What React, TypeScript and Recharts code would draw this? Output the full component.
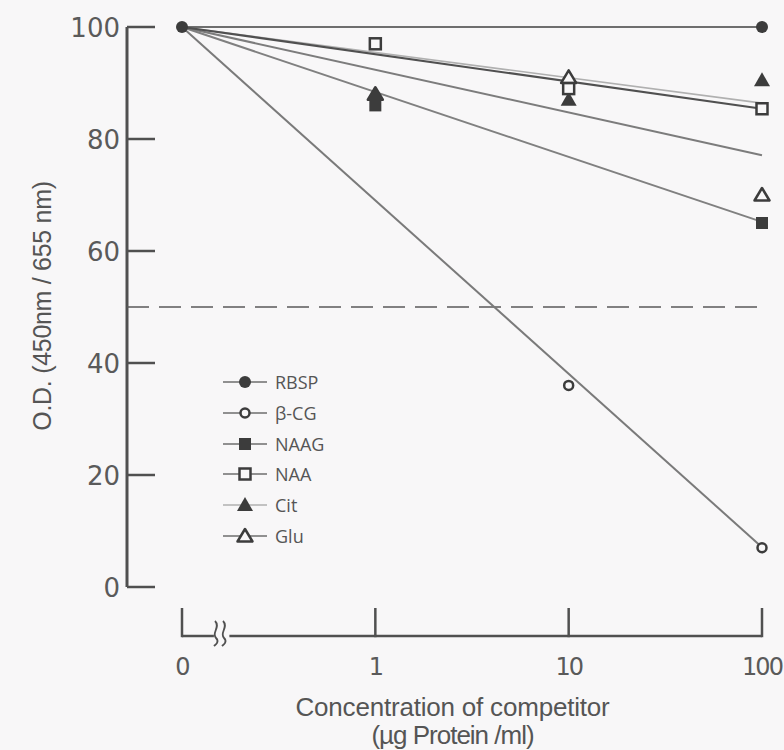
import { ComposedChart, Line, Scatter, XAxis, YAxis, ReferenceLine } from 'recharts'

document.body.style.margin = '0'

// concentration positions (log-spaced, 0 shown with an axis break)
const concPos = [0, 1, 2, 3]
const concLabels = ['0', '1', '10', '100']
const yTicks = [0, 20, 40, 60, 80, 100]

// measured points (null = no visible marker)
const rbspVals = [100, null, null, 100]
const bcgVals = [null, null, 36, 7]
const naagVals = [null, 86, null, 65]
const naaVals = [null, 97, 89, 85.4]
const citVals = [null, 88, 87, 90.5]
const gluVals = [null, 88, 91, 70]

// fitted lines: value at 0 and at 100 ug/ml
const fitStart = 100
const rbspFitEnd = 100
const bcgFitEnd = 7.1
const naagFitEnd = 65.2
const naaFitEnd = 85.4
const citFitEnd = 86.4
const gluFitEnd = 77.1

const X_MIN = -0.2845
const Y_MIN = -8.75
const BG = '#f8f7f8'
const INK = '#3c3c3c'
const AXIS = '#505050'

const points = (vals: (number | null)[]) =>
  concPos.map((x, i) => ({ x, y: vals[i] })).filter((p) => p.y != null)

const fit = (end: number) => [
  { x: concPos[0], y: fitStart },
  { x: concPos[3], y: end },
]

type Kind = 'circle' | 'circleOpen' | 'square' | 'squareOpen' | 'triangle' | 'triangleOpen'

function Marker({ kind, cx, cy }: { kind: Kind; cx: number; cy: number }) {
  if (cx == null || cy == null) return null
  switch (kind) {
    case 'circle':
      return <circle cx={cx} cy={cy} r={6} fill={INK} />
    case 'circleOpen':
      return <circle cx={cx} cy={cy} r={4.5} fill={BG} stroke={INK} strokeWidth={2.5} />
    case 'square':
      return <rect x={cx - 6} y={cy - 6} width={12} height={12} fill={INK} />
    case 'squareOpen':
      return <rect x={cx - 5.5} y={cy - 5.5} width={11} height={11} fill={BG} stroke={INK} strokeWidth={2.5} />
    case 'triangle':
      return <polygon points={`${cx},${cy - 8} ${cx + 8},${cy + 6} ${cx - 8},${cy + 6}`} fill={INK} />
    case 'triangleOpen':
      return (
        <polygon
          points={`${cx},${cy - 7} ${cx + 7.5},${cy + 5.5} ${cx - 7.5},${cy + 5.5}`}
          fill={BG}
          stroke={INK}
          strokeWidth={2.5}
          strokeLinejoin="round"
        />
      )
  }
  return null
}

const legendItems: { name: string; kind: Kind; line: string }[] = [
  { name: 'RBSP', kind: 'circle', line: '#6e6e6e' },
  { name: 'β-CG', kind: 'circleOpen', line: '#6e6e6e' },
  { name: 'NAAG', kind: 'square', line: '#6e6e6e' },
  { name: 'NAA', kind: 'squareOpen', line: '#6e6e6e' },
  { name: 'Cit', kind: 'triangle', line: '#b0b0b0' },
  { name: 'Glu', kind: 'triangleOpen', line: '#6e6e6e' },
]

const YTick = ({ x, y, payload }: any) => (
  <g>
    <line x1={x + 7} x2={x + 35} y1={y} y2={y} stroke={AXIS} strokeWidth={2.5} />
    <text x={x} y={y} dy="0.37em" textAnchor="end" fontFamily="DejaVu Sans" fontSize={26} fill="#5a5a5a">
      {payload.value}
    </text>
  </g>
)

const XTick = ({ x, y, payload }: any) => {
  const i = concPos.indexOf(payload.value)
  return (
    <g>
      <line x1={x} x2={x} y1={y - 28} y2={y + 1.2} stroke={AXIS} strokeWidth={2.5} />
      {i === 0 && (
        <g fill="none" stroke={AXIS} strokeWidth={1.8}>
          <path d={`M${x + 33} ${y - 15} C${x + 39} ${y - 9}, ${x + 29} ${y - 3}, ${x + 34} ${y + 2} C${x + 38} ${y + 6}, ${x + 33} ${y + 9}, ${x + 32} ${y + 10}`} />
          <path d={`M${x + 41} ${y - 15} C${x + 47} ${y - 9}, ${x + 37} ${y - 3}, ${x + 42} ${y + 2} C${x + 46} ${y + 6}, ${x + 41} ${y + 9}, ${x + 40} ${y + 10}`} />
        </g>
      )}
      <text
        x={x}
        y={y}
        dy={39}
        textAnchor="middle"
        fontFamily="DejaVu Sans"
        fontSize={24}
        letterSpacing={-2}
        fill="#5a5a5a"
      >
        {concLabels[i]}
      </text>
    </g>
  )
}

const XLabel = ({ viewBox }: any) => {
  const cx = viewBox.x + viewBox.width / 2 + 8
  return (
    <g fontFamily="Liberation Sans" fontSize={26} fill="#555" letterSpacing={-0.2} textAnchor="middle">
      <text x={cx} y={viewBox.y + 80}>Concentration of competitor</text>
      <text x={cx} y={viewBox.y + 108} letterSpacing={-1}>(µg Protein /ml)</text>
    </g>
  )
}

const YLabel = () => (
  <text
    x={42}
    y={306}
    transform="rotate(-90, 42, 306)"
    textAnchor="middle"
    dominantBaseline="central"
    fontFamily="Liberation Sans"
    fontSize={25}
    letterSpacing={-0.3}
    fill="#555"
  >
    O.D. (450nm / 655 nm)
  </text>
)

export default function App() {
  return (
    <div style={{ position: 'relative', width: 784, height: 750, background: BG, overflow: 'hidden' }}>
      <ComposedChart width={784} height={750} margin={{ top: 27, right: 22, bottom: 0, left: 67 }}>
        <XAxis
          type="number"
          dataKey="x"
          domain={[X_MIN, 3]}
          ticks={concPos}
          interval={0}
          axisLine={false}
          tickLine={false}
          tickSize={0}
          tickMargin={0}
          height={114}
          tick={<XTick />}
          label={<XLabel />}
        />
        <YAxis
          type="number"
          dataKey="y"
          domain={[Y_MIN, 100]}
          ticks={yTicks}
          interval={0}
          axisLine={false}
          tickLine={false}
          tickSize={0}
          tickMargin={7}
          width={60}
          tick={<YTick />}
          label={<YLabel />}
        />
        <ReferenceLine
          segment={[{ x: X_MIN, y: 0 }, { x: X_MIN, y: 100 }]}
          stroke={AXIS}
          strokeWidth={3}
          ifOverflow="visible"
        />
        <ReferenceLine
          segment={[{ x: 0, y: Y_MIN }, { x: 0.165, y: Y_MIN }]}
          stroke={AXIS}
          strokeWidth={2.5}
          ifOverflow="visible"
        />
        <ReferenceLine
          segment={[{ x: 0.245, y: Y_MIN }, { x: 3, y: Y_MIN }]}
          stroke={AXIS}
          strokeWidth={2.5}
          ifOverflow="visible"
        />
        <ReferenceLine y={50} stroke="#5a5a5a" strokeWidth={1.6} strokeDasharray="22 10" ifOverflow="visible" />

        <Line data={fit(citFitEnd)} dataKey="y" stroke="#b0b0b0" strokeWidth={1.6} dot={false} isAnimationActive={false} />
        <Line data={fit(rbspFitEnd)} dataKey="y" stroke="#6e6e6e" strokeWidth={2} dot={false} isAnimationActive={false} />
        <Line data={fit(bcgFitEnd)} dataKey="y" stroke="#7a7a7a" strokeWidth={2} dot={false} isAnimationActive={false} />
        <Line data={fit(naagFitEnd)} dataKey="y" stroke="#808080" strokeWidth={2} dot={false} isAnimationActive={false} />
        <Line data={fit(gluFitEnd)} dataKey="y" stroke="#7c7c7c" strokeWidth={2} dot={false} isAnimationActive={false} />
        <Line data={fit(naaFitEnd)} dataKey="y" stroke="#505050" strokeWidth={2.2} dot={false} isAnimationActive={false} />

        <Scatter data={points(gluVals)} isAnimationActive={false} shape={(p: any) => <Marker kind="triangleOpen" cx={p.cx} cy={p.cy} />} />
        <Scatter data={points(naagVals)} isAnimationActive={false} shape={(p: any) => <Marker kind="square" cx={p.cx} cy={p.cy} />} />
        <Scatter data={points(citVals)} isAnimationActive={false} shape={(p: any) => <Marker kind="triangle" cx={p.cx} cy={p.cy} />} />
        <Scatter data={points(naaVals)} isAnimationActive={false} shape={(p: any) => <Marker kind="squareOpen" cx={p.cx} cy={p.cy} />} />
        <Scatter data={points(bcgVals)} isAnimationActive={false} shape={(p: any) => <Marker kind="circleOpen" cx={p.cx} cy={p.cy} />} />
        <Scatter data={points(rbspVals)} isAnimationActive={false} shape={(p: any) => <Marker kind="circle" cx={p.cx} cy={p.cy} />} />
      </ComposedChart>

      <div style={{ position: 'absolute', left: 222, top: 367 }}>
        {legendItems.map((it) => (
          <div key={it.name} style={{ display: 'flex', alignItems: 'center', height: 30.7 }}>
            <svg width={46} height={20} style={{ display: 'block' }}>
              <line x1={1} x2={45} y1={10} y2={10} stroke={it.line} strokeWidth={1.6} />
              <Marker kind={it.kind} cx={23} cy={10} />
            </svg>
            <span
              style={{
                marginLeft: 7,
                fontFamily: 'Open Sans',
                fontSize: 18,
                color: '#555',
                lineHeight: '20px',
              }}
            >
              {it.name}
            </span>
          </div>
        ))}
      </div>
    </div>
  )
}
